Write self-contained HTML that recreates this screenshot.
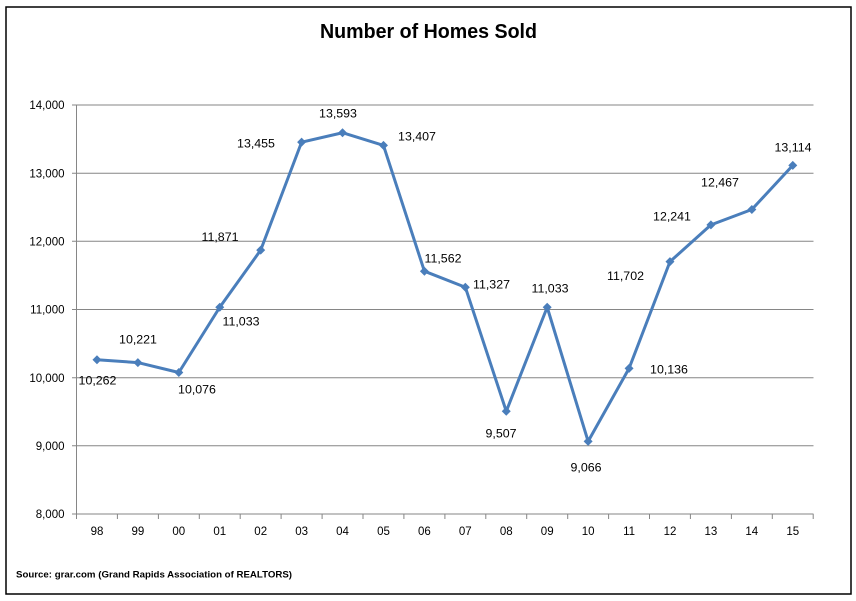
<!DOCTYPE html>
<html>
<head>
<meta charset="utf-8">
<style>
html,body{margin:0;padding:0;background:#fff;}
svg{display:block;}
</style>
</head>
<body>
<svg width="856" height="601" viewBox="0 0 856 601" xmlns="http://www.w3.org/2000/svg" font-family="'Liberation Sans', Arial, sans-serif">
  <rect x="0" y="0" width="856" height="601" fill="#fff"/>
  <rect x="6" y="7" width="845" height="587" fill="#fff" stroke="#000" stroke-width="1.5"/>

  <text x="428.5" y="38" text-anchor="middle" font-size="20" font-weight="bold" fill="#000" textLength="217" lengthAdjust="spacingAndGlyphs">Number of Homes Sold</text>

  <!-- gridlines -->
  <g stroke="#868686" stroke-width="1" fill="none">
    <line x1="72" y1="105" x2="813.5" y2="105"/>
    <line x1="72" y1="173.2" x2="813.5" y2="173.2"/>
    <line x1="72" y1="241.3" x2="813.5" y2="241.3"/>
    <line x1="72" y1="309.5" x2="813.5" y2="309.5"/>
    <line x1="72" y1="377.7" x2="813.5" y2="377.7"/>
    <line x1="72" y1="445.8" x2="813.5" y2="445.8"/>
    <line x1="72" y1="514" x2="813.5" y2="514"/>
    <line x1="76.5" y1="105" x2="76.5" y2="514"/>
  </g>
  <g stroke="#868686" stroke-width="1">
    <line x1="76.5" y1="514" x2="76.5" y2="519"/>
    <line x1="117.4" y1="514" x2="117.4" y2="519"/>
    <line x1="158.4" y1="514" x2="158.4" y2="519"/>
    <line x1="199.3" y1="514" x2="199.3" y2="519"/>
    <line x1="240.2" y1="514" x2="240.2" y2="519"/>
    <line x1="281.1" y1="514" x2="281.1" y2="519"/>
    <line x1="322.1" y1="514" x2="322.1" y2="519"/>
    <line x1="363" y1="514" x2="363" y2="519"/>
    <line x1="403.9" y1="514" x2="403.9" y2="519"/>
    <line x1="444.9" y1="514" x2="444.9" y2="519"/>
    <line x1="485.8" y1="514" x2="485.8" y2="519"/>
    <line x1="526.7" y1="514" x2="526.7" y2="519"/>
    <line x1="567.7" y1="514" x2="567.7" y2="519"/>
    <line x1="608.6" y1="514" x2="608.6" y2="519"/>
    <line x1="649.5" y1="514" x2="649.5" y2="519"/>
    <line x1="690.4" y1="514" x2="690.4" y2="519"/>
    <line x1="731.4" y1="514" x2="731.4" y2="519"/>
    <line x1="772.3" y1="514" x2="772.3" y2="519"/>
    <line x1="813.2" y1="514" x2="813.2" y2="519"/>
  </g>

  <!-- y labels -->
  <g font-size="11.5" fill="#000" text-anchor="end">
    <text x="64.5" y="109.2">14,000</text>
    <text x="64.5" y="177.4">13,000</text>
    <text x="64.5" y="245.5">12,000</text>
    <text x="64.5" y="313.7">11,000</text>
    <text x="64.5" y="381.9">10,000</text>
    <text x="64.5" y="450">9,000</text>
    <text x="64.5" y="518.2">8,000</text>
  </g>

  <!-- x labels -->
  <g font-size="11.5" fill="#000" text-anchor="middle">
    <text x="97" y="535.2">98</text>
    <text x="137.9" y="535.2">99</text>
    <text x="178.8" y="535.2">00</text>
    <text x="219.8" y="535.2">01</text>
    <text x="260.7" y="535.2">02</text>
    <text x="301.6" y="535.2">03</text>
    <text x="342.5" y="535.2">04</text>
    <text x="383.5" y="535.2">05</text>
    <text x="424.4" y="535.2">06</text>
    <text x="465.3" y="535.2">07</text>
    <text x="506.3" y="535.2">08</text>
    <text x="547.2" y="535.2">09</text>
    <text x="588.1" y="535.2">10</text>
    <text x="629.1" y="535.2">11</text>
    <text x="670" y="535.2">12</text>
    <text x="710.9" y="535.2">13</text>
    <text x="751.8" y="535.2">14</text>
    <text x="792.8" y="535.2">15</text>
  </g>

  <!-- series line -->
  <polyline fill="none" stroke="#4A7EBB" stroke-width="3" stroke-linejoin="round" stroke-linecap="round"
    points="96.96,359.8 137.89,362.6 178.82,372.5 219.75,307.25 260.68,250.1 301.61,142.15 342.54,132.74 383.47,145.42 424.4,271.19 465.33,287.21 506.26,411.27 547.19,307.25 588.12,441.33 629.05,368.4 669.98,261.65 710.91,224.9 751.84,209.5 792.77,165.4"/>

  <!-- markers -->
  <g fill="#4A7EBB">
    <path d="M96.96,355.3 l4.5,4.5 l-4.5,4.5 l-4.5,-4.5z"/>
    <path d="M137.89,358.1 l4.5,4.5 l-4.5,4.5 l-4.5,-4.5z"/>
    <path d="M178.82,368 l4.5,4.5 l-4.5,4.5 l-4.5,-4.5z"/>
    <path d="M219.75,302.75 l4.5,4.5 l-4.5,4.5 l-4.5,-4.5z"/>
    <path d="M260.68,245.6 l4.5,4.5 l-4.5,4.5 l-4.5,-4.5z"/>
    <path d="M301.61,137.65 l4.5,4.5 l-4.5,4.5 l-4.5,-4.5z"/>
    <path d="M342.54,128.24 l4.5,4.5 l-4.5,4.5 l-4.5,-4.5z"/>
    <path d="M383.47,140.92 l4.5,4.5 l-4.5,4.5 l-4.5,-4.5z"/>
    <path d="M424.4,266.69 l4.5,4.5 l-4.5,4.5 l-4.5,-4.5z"/>
    <path d="M465.33,282.71 l4.5,4.5 l-4.5,4.5 l-4.5,-4.5z"/>
    <path d="M506.26,406.77 l4.5,4.5 l-4.5,4.5 l-4.5,-4.5z"/>
    <path d="M547.19,302.75 l4.5,4.5 l-4.5,4.5 l-4.5,-4.5z"/>
    <path d="M588.12,436.83 l4.5,4.5 l-4.5,4.5 l-4.5,-4.5z"/>
    <path d="M629.05,363.9 l4.5,4.5 l-4.5,4.5 l-4.5,-4.5z"/>
    <path d="M669.98,257.15 l4.5,4.5 l-4.5,4.5 l-4.5,-4.5z"/>
    <path d="M710.91,220.4 l4.5,4.5 l-4.5,4.5 l-4.5,-4.5z"/>
    <path d="M751.84,205 l4.5,4.5 l-4.5,4.5 l-4.5,-4.5z"/>
    <path d="M792.77,160.9 l4.5,4.5 l-4.5,4.5 l-4.5,-4.5z"/>
  </g>

  <!-- data labels -->
  <g font-size="12.4" fill="#000" text-anchor="middle">
    <text x="97.5" y="384.4">10,262</text>
    <text x="138" y="343.7">10,221</text>
    <text x="197" y="393.7">10,076</text>
    <text x="241" y="325.4">11,033</text>
    <text x="220" y="241.1">11,871</text>
    <text x="256" y="147.7">13,455</text>
    <text x="338" y="117.7">13,593</text>
    <text x="417" y="140.4">13,407</text>
    <text x="443" y="262.4">11,562</text>
    <text x="491.5" y="288.4">11,327</text>
    <text x="550" y="292.4">11,033</text>
    <text x="501" y="437.4">9,507</text>
    <text x="586" y="471.4">9,066</text>
    <text x="669" y="373.4">10,136</text>
    <text x="625.5" y="280.1">11,702</text>
    <text x="672" y="220.4">12,241</text>
    <text x="720" y="186.4">12,467</text>
    <text x="793" y="151.4">13,114</text>
  </g>

  <text x="16" y="577.5" font-size="9.5" font-weight="bold" fill="#000" textLength="276" lengthAdjust="spacingAndGlyphs">Source:  grar.com (Grand Rapids Association of REALTORS)</text>
</svg>
</body>
</html>
